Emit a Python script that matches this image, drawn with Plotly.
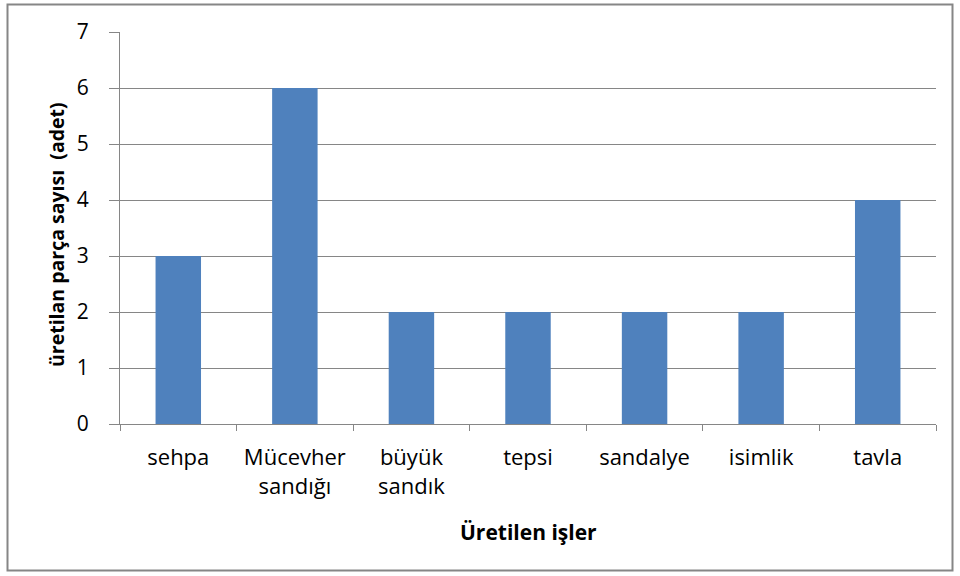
import plotly.graph_objects as go

# === Data ===
categories = ["sehpa", "Mücevher<br>sandığı", "büyük<br>sandık", "tepsi", "sandalye", "isimlik", "tavla"]
values = [3, 6, 2, 2, 2, 2, 4]
y_ticks = [0, 1, 2, 3, 4, 5, 6, 7]

FONT = "'Open Sans', sans-serif"
GRID = "#868686"

# plot area in pixels
L, R, T, B = 120, 24, 32, 152
W, H = 960, 576
pw, ph = W - L - R, H - T - B

def px_x(x):
    return (x - L) / pw

def px_y(y):
    return (H - B - y) / ph

fig = go.Figure(
    go.Bar(
        x=categories,
        y=values,
        marker=dict(color="#4F81BD", line=dict(width=0)),
        width=0.39,
    )
)

fig.update_layout(
    width=W,
    height=H,
    margin=dict(l=L, r=R, t=T, b=B),
    paper_bgcolor="white",
    plot_bgcolor="white",
    showlegend=False,
    font=dict(family=FONT, size=20, color="black"),
    xaxis=dict(
        type="category",
        tickson="boundaries",
        ticks="outside",
        ticklen=6,
        tickcolor=GRID,
        showline=True,
        linecolor=GRID,
        linewidth=1,
        showgrid=False,
        automargin=False,
        tickfont=dict(size=22),
        ticklabelstandoff=14,
    ),
    yaxis=dict(
        range=[0, 7],
        tickvals=y_ticks,
        ticks="outside",
        ticklen=10,
        tickcolor=GRID,
        showline=True,
        linecolor=GRID,
        showgrid=True,
        gridcolor=GRID,
        gridwidth=1,
        zeroline=False,
        automargin=False,
        tickfont=dict(size=21),
        ticklabelstandoff=16,
    ),
    annotations=[
        dict(
            text="<b>Üretilen işler</b>",
            xref="paper", yref="paper",
            x=0.5, y=px_y(532),
            xanchor="center", yanchor="middle",
            showarrow=False,
            font=dict(size=21),
        ),
        dict(
            text="<b>üretilan parça sayısı  (adet)</b>",
            xref="paper", yref="paper",
            x=px_x(57), y=px_y(235),
            xanchor="center", yanchor="middle",
            textangle=-90,
            showarrow=False,
            font=dict(size=19.5),
        ),
    ],
    shapes=[
        dict(
            type="rect",
            xref="paper", yref="paper",
            x0=px_x(7.5), x1=px_x(952.5),
            y0=px_y(570.5), y1=px_y(4.5),
            line=dict(color=GRID, width=2),
        )
    ],
)

fig.write_html(
    "out.html",
    config={"displayModeBar": False},
    post_script="document.body.style.margin='0';",
)
